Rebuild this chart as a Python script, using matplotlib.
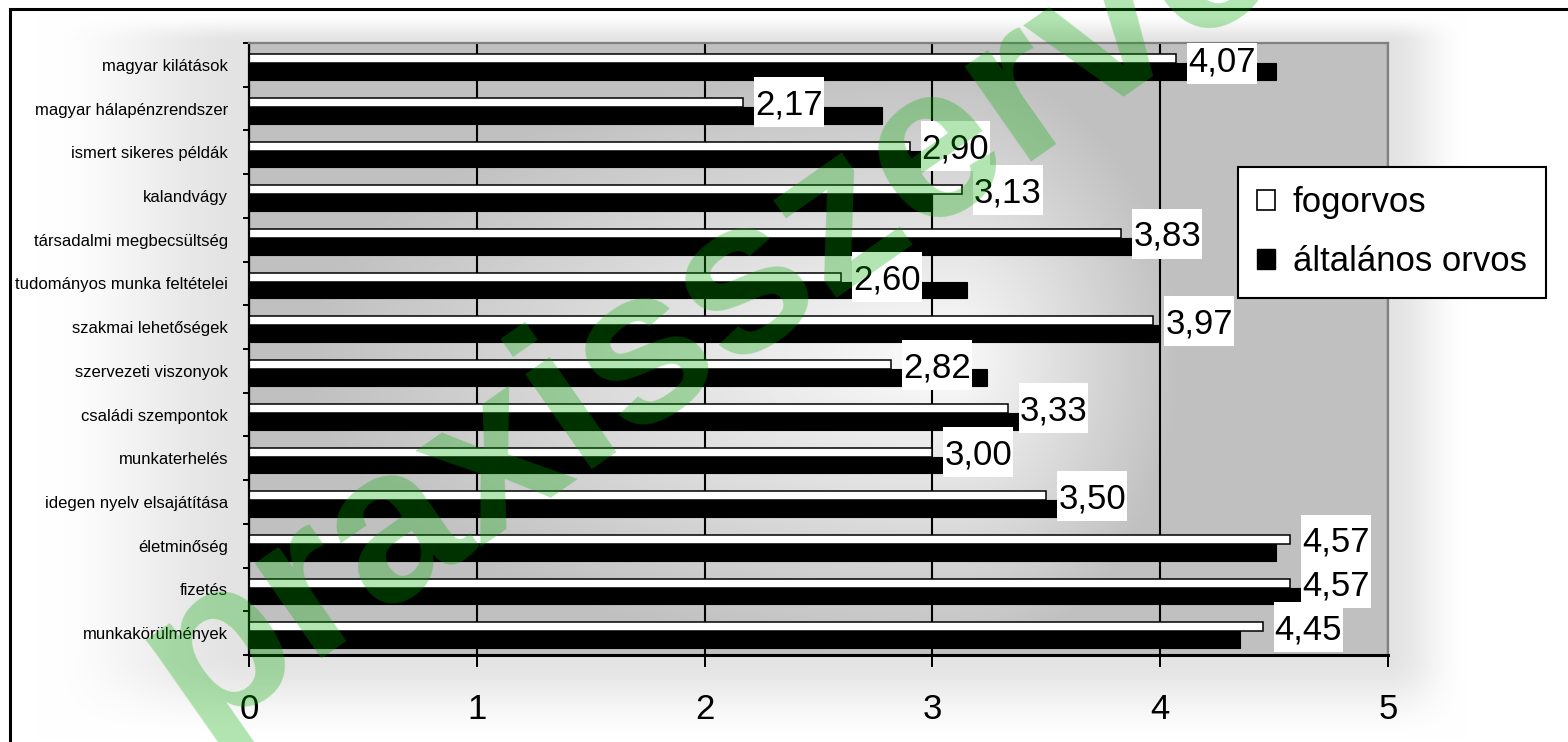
import numpy as np
import matplotlib
matplotlib.use("Agg")
import matplotlib.pyplot as plt
from matplotlib.patches import Rectangle, Patch

# ---------------- data ----------------
categories = ["magyar kilátások", "magyar hálapénzrendszer", "ismert sikeres példák",
              "kalandvágy", "társadalmi megbecsültség", "tudományos munka feltételei",
              "szakmai lehetőségek", "szervezeti viszonyok", "családi szempontok",
              "munkaterhelés", "idegen nyelv elsajátítása", "életminőség", "fizetés",
              "munkakörülmények"]
fogorvos = [4.07, 2.17, 2.90, 3.13, 3.83, 2.60, 3.97, 2.82, 3.33, 3.00, 3.50, 4.57, 4.57, 4.45]
altalanos_orvos = [4.51, 2.78, 2.96, 3.00, 3.88, 3.15, 3.99, 3.24, 3.39, 3.05, 3.55, 4.51, 4.63, 4.35]
series_names = ["fogorvos", "általános orvos"]
xtick_values = [0, 1, 2, 3, 4, 5]
watermark = "praxisszerver.hu"

# ---------------- figure ----------------
W, H = 1568, 742
plt.rcParams["font.family"] = ["Liberation Sans", "DejaVu Sans"]
fig = plt.figure(figsize=(W / 100, H / 100), dpi=100)

# soft grey glow around the plot area (figure background)
bg = fig.add_axes([0, 0, 1, 1], zorder=-10)
bg.axis("off")
X, Y = np.meshgrid(np.arange(W) + 0.5, np.arange(H) + 0.5)


def ramp(v, a, b, fa, fb):
    g = np.ones_like(v)
    lo = v < a
    g[lo] = np.clip(1 - (a - v[lo]) / fa, 0, 1)
    hi = v > b
    g[hi] = np.clip(1 - (v[hi] - b) / fb, 0, 1)
    return g * g * (3 - 2 * g)


PL, PR, PT, PB = 249, 1388, 43, 655
G = ramp(X, PL, PR, 210, 80) * ramp(Y, PT, PB, 30, 85)
v = (255 - 28 * G) / 255.0
bg.imshow(np.dstack([v, v, v]), extent=[0, 1, 0, 1], aspect="auto", origin="upper",
          interpolation="bilinear")
bg.set_xlim(0, 1)
bg.set_ylim(0, 1)

ax = fig.add_axes([PL / W, 1 - PB / H, (PR - PL) / W, (PB - PT) / H])
ax.set_facecolor("none")

# plot-area gradient (light centre, grey edges)
px, py = np.meshgrid(np.arange(PL, PR) + 0.5, np.arange(PT, PB) + 0.5)
cx, cy = 950, 360
dx = px - cx
sx = np.where(dx < 0, 650, 230)
t = np.sqrt((dx / sx) ** 2 + ((py - cy) / 300.0) ** 2)
pv = (192 + 60 * np.clip(1 - t, 0, 1)) / 255.0
ax.imshow(np.dstack([pv, pv, pv]), extent=[0, 1, 0, 1], transform=ax.transAxes,
          aspect="auto", origin="upper", zorder=0, interpolation="bilinear")

n = len(categories)
y = np.arange(n)
ax.barh(y - 0.141, fogorvos, height=0.206, color="white", edgecolor="black",
        linewidth=1.1, zorder=2)
ax.barh(y + 0.152, altalanos_orvos, height=0.38, color="black", edgecolor="black",
        linewidth=0.8, zorder=2)

ax.set_xlim(0, 5)
ax.set_ylim(n - 0.5, -0.5)
ax.set_xticks(xtick_values)
ax.set_xticklabels([str(v) for v in xtick_values], fontsize=25)
ax.set_yticks(y)
ax.set_yticklabels(categories, fontsize=12)
ax.set_yticks(np.arange(-0.5, n, 1), minor=True)
ax.tick_params(axis="y", which="major", length=0, pad=15)
ax.tick_params(axis="y", which="minor", length=4.3, width=1.44, color="black")
ax.tick_params(axis="x", which="major", length=8.6, width=1.44, color="black",
               direction="out", pad=19)

ax.set_axisbelow(True)
ax.grid(axis="x", color="black", linewidth=1.5)
ax.grid(axis="y", visible=False)

for s in ["top", "right"]:
    ax.spines[s].set_color("#808080")
    ax.spines[s].set_linewidth(1.6)
ax.spines["left"].set_linewidth(1.6)
ax.spines["bottom"].set_linewidth(2.2)

# data labels of the white series
texts = []
for i, val in enumerate(fogorvos):
    tx = ax.annotate(f"{val:.2f}".replace(".", ","), xy=(val, i - 0.141),
                     xytext=(8.64, -0.358 * 25), textcoords="offset points",
                     ha="left", va="baseline", fontsize=25, zorder=7)
    texts.append((tx, val, i))

# legend
handles = [Patch(facecolor="white", edgecolor="black", linewidth=1.2),
           Patch(facecolor="black", edgecolor="black")]
leg = ax.legend(handles, series_names, loc="upper left",
                bbox_to_anchor=(1238 / W, 1 - 167 / H), bbox_transform=fig.transFigure,
                fontsize=25, frameon=True, fancybox=False, edgecolor="black",
                framealpha=1, borderpad=0.55, handlelength=0.52, handleheight=0.52,
                handletextpad=0.5, labelspacing=0.76, borderaxespad=0)
leg.get_frame().set_linewidth(1.5)
leg.set_zorder(10)

# outer frame
fig.patches.append(Rectangle((10 / W, -0.2), 2, 1 - 9 / H + 0.2, transform=fig.transFigure,
                             fill=False, edgecolor="black", linewidth=2.2, zorder=20))

# watermark
fig.text(198 / W, 1 - 735 / H, watermark, rotation=35, rotation_mode="anchor",
         ha="left", va="baseline", fontsize=158, fontweight="bold",
         color=(0, 0.667, 0), alpha=0.3, zorder=100)

# white boxes behind the data labels
fig.canvas.draw()
r = fig.canvas.get_renderer()
inv = ax.transAxes.inverted()
for tx, val, i in texts:
    bb = tx.get_window_extent(r)
    ccy = ax.transData.transform((val, i - 0.141))[1]
    (x0, y0) = inv.transform((bb.x0 - 1, ccy - 25))
    (x1, y1) = inv.transform((bb.x1 + 1, ccy + 25))
    ax.add_patch(Rectangle((x0, y0), x1 - x0, y1 - y0, transform=ax.transAxes,
                           facecolor="white", edgecolor="none", zorder=6))

fig.savefig("out.png", dpi=100)
